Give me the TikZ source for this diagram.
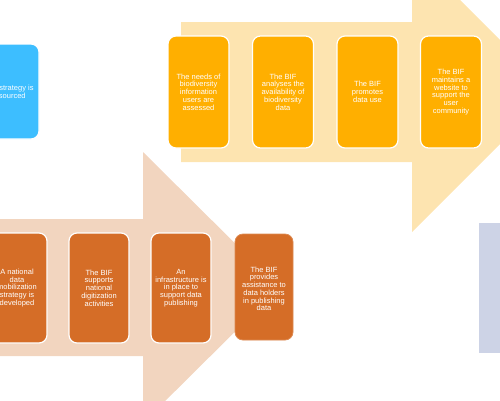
\documentclass[tikz,border=0pt]{standalone}
\usepackage{fontspec}
\setmainfont{Liberation Sans}
\definecolor{toparrow}{HTML}{FDE4B0}
\definecolor{topbox}{HTML}{FFAF00}
\definecolor{botarrow}{HTML}{F2D5BF}
\definecolor{botbox}{HTML}{D56D27}
\definecolor{bluebox}{HTML}{3DBEFF}
\definecolor{grayblue}{HTML}{CDD3E6}
\tikzset{
  card/.style={rounded corners=8pt, draw=white, line width=1.2pt, inner sep=0pt,
    align=center, text=white, font=\fontsize{7.5}{7.7}\selectfont,
    minimum width=61pt},
  topcard/.style={card, fill=topbox, minimum height=112pt},
  botcard/.style={card, fill=botbox, minimum height=110pt},
}
\begin{document}
\begin{tikzpicture}[x=1pt,y=-1pt]
\useasboundingbox (0,0) rectangle (500,400);
\clip (0,0) rectangle (500,400);
% background arrows
\fill[toparrow] (181,22) -- (412,22) -- (412,-48) -- (552,92) -- (412,232) -- (412,162) -- (181,162) -- cycle;
\fill[botarrow] (-10,219) -- (143,219) -- (143,152) -- (279.5,287.5) -- (143,423) -- (143,356) -- (-10,356) -- cycle;
\fill[grayblue] (479,223) rectangle (510,353);
% blue card
\node[card, fill=bluebox, minimum width=60pt, minimum height=95pt] (b0) at (9,91.5) {The strategy is\\resourced};
% top row
\node[topcard] (t1) at (198.5,92) {The needs of\\biodiversity\\information\\users are\\assessed};
\node[topcard] (t2) at (283,92) {The BIF\\analyses the\\availability of\\biodiversity\\data};
\node[topcard] (t3) at (367.5,92) {The BIF\\promotes\\data use};
\node[topcard] (t4) at (451,92) {The BIF\\maintains a\\website to\\support the\\user\\community};
% bottom row
\node[botcard, minimum width=60pt] (u1) at (17,288) {A national\\data\\mobilization\\strategy is\\developed};
\node[botcard, minimum width=60pt] (u2) at (99,288) {The BIF\\supports\\national\\digitization\\activities};
\node[botcard, minimum width=60pt] (u3) at (181,288) {An\\infrastructure is\\in place to\\support data\\publishing};
\node[botcard, draw=botbox!80!white, line width=0.8pt, minimum width=58pt, minimum height=106pt] (u4) at (264,287) {\rule{0pt}{9pt}The BIF\\provides\\assistance to\\data holders\\in publishing\\data};
\end{tikzpicture}
\end{document}
